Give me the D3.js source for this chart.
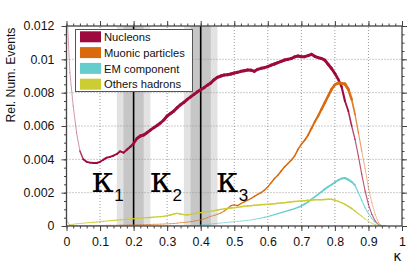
<!DOCTYPE html>
<html><head><meta charset="utf-8">
<script src="https://cdn.jsdelivr.net/npm/d3@7"></script>
<style>body{margin:0;background:#fff}svg{display:block}text{font-family:"Liberation Sans",Arial,sans-serif}</style>
</head><body><svg id="c" width="415" height="269"></svg>
<script>
const kappa = [0.00,0.01,0.02,0.03,0.04,0.05,0.06,0.07,0.08,0.09,0.10,0.11,0.12,0.13,0.14,0.15,0.16,0.17,0.18,0.19,0.20,0.21,0.22,0.23,0.24,0.25,0.26,0.27,0.28,0.29,0.30,0.31,0.32,0.33,0.34,0.35,0.36,0.37,0.38,0.39,0.40,0.41,0.42,0.43,0.44,0.45,0.46,0.47,0.48,0.49,0.50,0.51,0.52,0.53,0.54,0.55,0.56,0.57,0.58,0.59,0.60,0.61,0.62,0.63,0.64,0.65,0.66,0.67,0.68,0.69,0.70,0.71,0.72,0.73,0.74,0.75,0.76,0.77,0.78,0.79,0.80,0.81,0.82,0.83,0.84,0.85,0.86,0.87,0.88,0.89,0.90,0.91,0.92,0.93,0.94,0.95];
const nucleons = [0.0135,0.0092,0.0072,0.0056,0.0045,0.0040,0.00385,0.00380,0.00378,0.00378,0.00385,0.00398,0.00410,0.00415,0.00422,0.00432,0.00448,0.00440,0.00458,0.00475,0.00495,0.00525,0.00540,0.00546,0.00560,0.00575,0.00590,0.00603,0.00618,0.00636,0.00660,0.00675,0.00690,0.00710,0.00728,0.00742,0.00760,0.00775,0.00790,0.00805,0.00818,0.00830,0.00845,0.00858,0.00878,0.00892,0.00900,0.00906,0.00908,0.00912,0.00918,0.00922,0.00928,0.00932,0.00936,0.00935,0.00928,0.00940,0.00946,0.00950,0.00956,0.00965,0.00972,0.00980,0.00988,0.00996,0.01000,0.01005,0.01015,0.01020,0.01016,0.01016,0.01022,0.01030,0.01018,0.01010,0.01005,0.00995,0.00970,0.00945,0.00915,0.00880,0.00835,0.00750,0.00690,0.00600,0.00520,0.00420,0.00310,0.00210,0.00130,0.00070,0.00030,0.00008,0.0,0.0];
const muonic = [0.00035,0.00005,0.00002,0.00002,0.00002,0.00002,0.00002,0.00002,0.00002,0.00002,0.00003,0.00003,0.00004,0.00004,0.00004,0.00004,0.00005,0.00005,0.00005,0.00006,0.00006,0.00007,0.00007,0.00008,0.00008,0.00009,0.00010,0.00010,0.00011,0.00012,0.00013,0.00014,0.00015,0.00017,0.00020,0.00021,0.00023,0.00026,0.00029,0.00033,0.00037,0.00043,0.00050,0.00058,0.00063,0.00070,0.00078,0.00090,0.00105,0.00122,0.00127,0.00122,0.00135,0.00145,0.00155,0.00165,0.00178,0.00190,0.00200,0.00215,0.00235,0.00260,0.00285,0.00305,0.00330,0.00355,0.00375,0.00395,0.00420,0.00460,0.00490,0.00515,0.00545,0.00585,0.00625,0.00660,0.00700,0.00740,0.00780,0.00820,0.00848,0.00858,0.00856,0.00852,0.00820,0.00760,0.00670,0.00560,0.00450,0.00345,0.00230,0.00140,0.00070,0.00020,0.00002,0.0];
const emComponent = [0,0,0,0,0,0,0,0,0,0,0,0,0,0,0,0,0,0,0,0,0,0,0,0,0,0,0,0,0,0,0,0,0,0,0,0,0,0,0,0.00002,0.00005,0.00008,0.00010,0.00012,0.00014,0.00016,0.00018,0.00020,0.00022,0.00024,0.00026,0.00028,0.00030,0.00032,0.00034,0.00036,0.00040,0.00044,0.00048,0.00052,0.00056,0.00062,0.00068,0.00074,0.00080,0.00086,0.00092,0.00098,0.00104,0.00112,0.00120,0.00132,0.00145,0.00160,0.00175,0.00190,0.00205,0.00222,0.00236,0.00248,0.00262,0.00275,0.00285,0.00288,0.00278,0.00265,0.00245,0.00200,0.00155,0.00110,0.00075,0.00045,0.00022,0.00008,0.00002,0];
const otherHadrons = [0,0.00006,0.0001,0.00013,0.00015,0.00017,0.00019,0.00021,0.00022,0.00024,0.00026,0.00028,0.0003,0.00032,0.00034,0.00035,0.00037,0.00039,0.0004,0.00042,0.00044,0.00046,0.00047,0.00049,0.0005,0.00051,0.00053,0.00055,0.00056,0.00058,0.00062,0.00066,0.00072,0.00076,0.00072,0.00068,0.00066,0.0007,0.00074,0.00078,0.0008,0.00083,0.00086,0.00088,0.00092,0.00096,0.001,0.00103,0.00105,0.00108,0.0011,0.00113,0.00116,0.00118,0.0012,0.00122,0.00124,0.00126,0.00127,0.00129,0.0013,0.00132,0.00134,0.00136,0.00138,0.0014,0.00142,0.00145,0.00147,0.00148,0.0015,0.00152,0.00154,0.00155,0.00157,0.00158,0.00158,0.00159,0.0016,0.0016,0.00155,0.00148,0.0014,0.0013,0.00118,0.00105,0.0009,0.00074,0.00058,0.00042,0.00028,0.00016,0.00008,0.00002,0,0];
const seriesNames = ["Nucleons","Muonic particles","EM component","Others hadrons"];
const xTickValues = [0,0.1,0.2,0.3,0.4,0.5,0.6,0.7,0.8,0.9,1];
const xTickLabels = ["0","0.1","0.2","0.3","0.4","0.5","0.6","0.7","0.8","0.9","1"];
const yTickValues = [0,0.002,0.004,0.006,0.008,0.01,0.012];
const yTickLabels = ["0","0.002","0.004","0.006","0.008","0.01","0.012"];
const markerLines = [0.2,0.4];
const bandsOuter = [[0.15,0.25],[0.35,0.45]];
const bandsInner = [[0.17,0.23],[0.37,0.43]];
const kappaLabels = [{k:0.08,sub:"1"},{k:0.253,sub:"2"},{k:0.451,sub:"3"}];

const seriesValues = [nucleons, muonic, emComponent, otherHadrons];
const colors = ["#9e0a3e","#d9690c","#66cccc","#cccc33"];
const profiles = [
  [[0,1,0.4],[0.035,1,0.45],[0.05,1.8,1],[0.18,2,1],[0.22,3,1],[0.79,3,1],[0.83,2,1],[0.86,1.2,0.7],[1,1,0.6]],
  [[0,1,0.5],[0.44,1,0.6],[0.5,1.3,1],[0.7,1.6,1],[0.78,2.6,1],[0.84,3,1],[0.86,1.4,0.8],[0.89,1,0.45],[1,1,0.4]],
  [[0,1,0.5],[0.55,1,0.6],[0.65,1.3,1],[0.78,1.8,1],[0.85,2,1],[0.87,1.2,0.8],[1,1,0.6]],
  [[0,1,0.7],[0.3,1.4,1],[0.85,1.5,1],[0.89,1,0.7],[1,1,0.6]]
];

const svg = d3.select("#c");
const x = d3.scaleLinear([0,1],[66.5,402]);
const y = d3.scaleLinear([0,0.012],[226,26]);
const SANS = "Liberation Sans, Arial, sans-serif";
function fitSize(sample, target, family){
  const t = svg.append("text").attr("font-size",20).style("font-family",family).text(sample);
  const w = t.node().getBBox().width; t.remove();
  return 20*target/w;
}
const tickFont = fitSize("0.012", 31, SANS);
const legFont = fitSize("Muonic particles", 81, SANS);
const titleFont = fitSize("Rel. Num. Events", 95, SANS);

svg.append("defs").append("clipPath").attr("id","clip").append("rect")
  .attr("x",x(0)).attr("y",y(0.012)).attr("width",x(1)-x(0)).attr("height",y(0)-y(0.012));

const plot = svg.append("g");
plot.selectAll("rect.bo").data(bandsOuter).join("rect")
  .attr("x",d=>x(d[0])).attr("width",d=>x(d[1])-x(d[0]))
  .attr("y",y(0.012)).attr("height",y(0)-y(0.012)).attr("fill","#e2e2e2");
plot.selectAll("rect.bi").data(bandsInner).join("rect")
  .attr("x",d=>x(d[0])).attr("width",d=>x(d[1])-x(d[0]))
  .attr("y",y(0.012)).attr("height",y(0)-y(0.012)).attr("fill","#c6c6c6");

plot.selectAll("line.gx").data(xTickValues.slice(1,-1)).join("line")
  .attr("x1",d=>x(d)).attr("x2",d=>x(d)).attr("y1",y(0)).attr("y2",y(0.012))
  .attr("stroke","#999").attr("stroke-width",1).attr("stroke-dasharray","1,2");
plot.selectAll("line.gy").data(yTickValues.slice(1,-1)).join("line")
  .attr("y1",d=>y(d)).attr("y2",d=>y(d)).attr("x1",x(0)).attr("x2",x(1))
  .attr("stroke","#999").attr("stroke-width",1).attr("stroke-dasharray","1,2");

plot.selectAll("line.mk").data(markerLines).join("line")
  .attr("x1",d=>x(d)).attr("x2",d=>x(d)).attr("y1",y(0)).attr("y2",y(0.012))
  .attr("stroke","#000").attr("stroke-width",1.6);

function prof(p,k){
  for(let i=0;i<p.length-1;i++){
    if(k>=p[i][0] && k<=p[i+1][0]){
      const t=(k-p[i][0])/(p[i+1][0]-p[i][0]);
      return [p[i][1]+t*(p[i+1][1]-p[i][1]), p[i][2]+t*(p[i+1][2]-p[i][2])];
    }
  }
  return [1,1];
}
const lines = plot.append("g").attr("clip-path","url(#clip)");
seriesValues.forEach((vals,si)=>{
  const segs=[];
  for(let i=0;i<kappa.length-1;i++){
    segs.push({a:[kappa[i],vals[i]],b:[kappa[i+1],vals[i+1]],m:(kappa[i]+kappa[i+1])/2});
  }
  lines.append("g").selectAll("line").data(segs).join("line")
    .attr("x1",d=>x(d.a[0])).attr("y1",d=>y(d.a[1]))
    .attr("x2",d=>x(d.b[0])).attr("y2",d=>y(d.b[1]))
    .attr("stroke",colors[si]).attr("stroke-linecap","round")
    .attr("stroke-width",d=>prof(profiles[si],d.m)[0])
    .attr("stroke-opacity",d=>prof(profiles[si],d.m)[1]);
});

const xMinor = d3.range(0,1.0001,0.02);
const yMinor = d3.range(0,0.01201,0.0005);
function styleAxis(g){ g.select(".domain").remove(); g.selectAll("line").attr("stroke","#444"); }
svg.append("g").attr("transform",`translate(0,${y(0)})`).call(d3.axisBottom(x).tickValues(xMinor).tickSize(2.5).tickFormat("")).call(styleAxis);
svg.append("g").attr("transform",`translate(0,${y(0.012)})`).call(d3.axisTop(x).tickValues(xMinor).tickSize(2.5).tickFormat("")).call(styleAxis);
svg.append("g").attr("transform",`translate(${x(0)},0)`).call(d3.axisLeft(y).tickValues(yMinor).tickSize(2.5).tickFormat("")).call(styleAxis);
svg.append("g").attr("transform",`translate(${x(1)},0)`).call(d3.axisRight(y).tickValues(yMinor).tickSize(2.5).tickFormat("")).call(styleAxis);

const xa = svg.append("g").attr("transform",`translate(0,${y(0)})`)
  .call(d3.axisBottom(x).tickValues(xTickValues).tickSize(5).tickPadding(6).tickFormat((d,i)=>xTickLabels[i]));
xa.call(styleAxis); xa.selectAll("text").attr("font-size",tickFont).attr("fill","#111").style("font-family",SANS);
svg.append("g").attr("transform",`translate(0,${y(0.012)})`).call(d3.axisTop(x).tickValues(xTickValues).tickSize(5).tickFormat("")).call(styleAxis);
const ya = svg.append("g").attr("transform",`translate(${x(0)},0)`)
  .call(d3.axisLeft(y).tickValues(yTickValues).tickSize(5).tickPadding(7).tickFormat((d,i)=>yTickLabels[i]));
ya.call(styleAxis); ya.selectAll("text").attr("font-size",tickFont).attr("fill","#111").style("font-family",SANS);
svg.append("g").attr("transform",`translate(${x(1)},0)`).call(d3.axisRight(y).tickValues(yTickValues).tickSize(5).tickFormat("")).call(styleAxis);

svg.append("rect").attr("x",x(0)).attr("y",y(0.012)).attr("width",x(1)-x(0)).attr("height",y(0)-y(0.012))
  .attr("fill","none").attr("stroke","#444").attr("stroke-width",1.3);

svg.append("text").attr("transform",`translate(14.5,75) rotate(-90)`)
  .attr("text-anchor","middle").attr("font-size",titleFont).attr("fill","#111").text("Rel. Num. Events");
svg.append("text").attr("x",397.5).attr("y",261).attr("text-anchor","middle")
  .attr("font-size",14).style("font-family","DejaVu Sans, sans-serif").attr("fill","#111").text("κ");

const ka = svg.append("g");
kappaLabels.forEach(d=>{
  ka.append("text").attr("x",x(d.k)-1.5).attr("y",192).attr("font-size",35)
    .style("font-family","DejaVu Serif, serif").attr("fill","#000").text("κ");
  ka.append("text").attr("x",x(d.k)+21).attr("y",201).attr("font-size",17).attr("fill","#000").text(d.sub);
});

const lg = svg.append("g");
lg.append("rect").attr("x",75.5).attr("y",29.5).attr("width",117).attr("height",62)
  .attr("fill","#fff").attr("stroke","#555").attr("stroke-width",1);
seriesNames.forEach((n,i)=>{
  const cy = 36.8 + i*15.8;
  lg.append("rect").attr("x",80).attr("y",cy-5.5).attr("width",21).attr("height",11).attr("fill",colors[i]);
  lg.append("text").attr("x",104).attr("y",cy+4.2).attr("font-size",legFont).attr("fill","#111").text(n);
});
</script></body></html>
